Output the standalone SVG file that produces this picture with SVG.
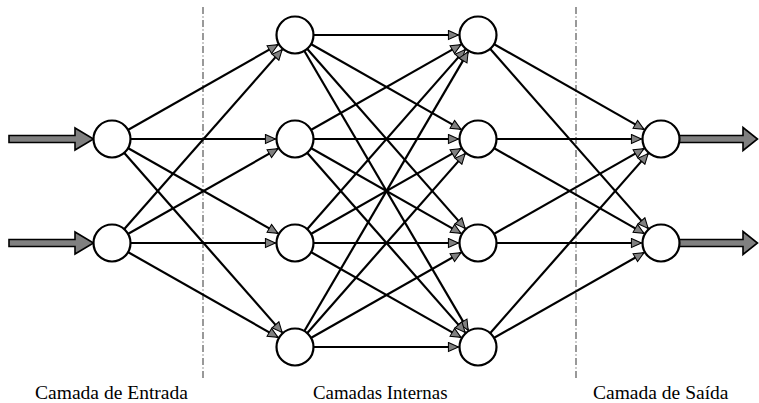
<svg xmlns="http://www.w3.org/2000/svg" width="759" height="403" viewBox="0 0 759 403">
<style>
.c{stroke:#000;stroke-width:2.2;fill:none;marker-end:url(#ah)}
.n{fill:#fff;stroke:#000;stroke-width:2.2}
.blk{fill:#808080;stroke:#000;stroke-width:1.6;stroke-linejoin:miter}
.sep{stroke:#999;stroke-width:2;stroke-dasharray:7 2.5 1 2.5}
.lbl{font-family:"Times New Roman","Liberation Serif","DejaVu Serif",serif;font-size:18.5px;fill:#000}
</style>
<defs>
<marker id="ah" markerUnits="userSpaceOnUse" markerWidth="13" markerHeight="11" refX="11" refY="5" orient="auto" viewBox="-1 -1 13 12">
<path d="M0,0 L11,5 L0,10 Z" fill="#808080" stroke="#000" stroke-width="1.1"/>
</marker>
</defs>
<rect width="759" height="403" fill="#fff"/>
<g id="separators">
<line class="sep" x1="203" y1="7" x2="203" y2="380"/>
<line class="sep" x1="576" y1="7" x2="576" y2="380"/>
</g>
<g id="connectors">
<line class="c" x1="112" y1="139" x2="278.05" y2="44.63"/>
<line class="c" x1="112" y1="139" x2="275.5" y2="139"/>
<line class="c" x1="112" y1="139" x2="278.05" y2="233.37"/>
<line class="c" x1="112" y1="139" x2="282.12" y2="332.36"/>
<line class="c" x1="112" y1="243" x2="282.12" y2="49.64"/>
<line class="c" x1="112" y1="243" x2="278.05" y2="148.63"/>
<line class="c" x1="112" y1="243" x2="275.5" y2="243"/>
<line class="c" x1="112" y1="243" x2="278.05" y2="337.37"/>

<line class="c" x1="295" y1="35" x2="458.5" y2="35"/>
<line class="c" x1="295" y1="139" x2="461.05" y2="44.63"/>
<line class="c" x1="295" y1="243" x2="465.12" y2="49.64"/>
<line class="c" x1="295" y1="347" x2="468.13" y2="51.82"/>
<line class="c" x1="295" y1="35" x2="461.05" y2="129.37"/>
<line class="c" x1="295" y1="139" x2="458.5" y2="139"/>
<line class="c" x1="295" y1="243" x2="461.05" y2="148.63"/>
<line class="c" x1="295" y1="347" x2="465.12" y2="153.64"/>
<line class="c" x1="295" y1="35" x2="465.12" y2="228.36"/>
<line class="c" x1="295" y1="139" x2="461.05" y2="233.37"/>
<line class="c" x1="295" y1="243" x2="458.5" y2="243"/>
<line class="c" x1="295" y1="347" x2="461.05" y2="252.63"/>
<line class="c" x1="295" y1="35" x2="468.13" y2="330.18"/>
<line class="c" x1="295" y1="139" x2="465.12" y2="332.36"/>
<line class="c" x1="295" y1="243" x2="461.05" y2="337.37"/>
<line class="c" x1="295" y1="347" x2="458.5" y2="347"/>

<line class="c" x1="478" y1="35" x2="644.05" y2="129.37"/>
<line class="c" x1="478" y1="139" x2="641.5" y2="139"/>
<line class="c" x1="478" y1="243" x2="644.05" y2="148.63"/>
<line class="c" x1="478" y1="347" x2="648.12" y2="153.64"/>
<line class="c" x1="478" y1="35" x2="648.12" y2="228.36"/>
<line class="c" x1="478" y1="139" x2="644.05" y2="233.37"/>
<line class="c" x1="478" y1="243" x2="641.5" y2="243"/>
<line class="c" x1="478" y1="347" x2="644.05" y2="252.63"/>
</g>
<g id="io-arrows">
<polygon class="blk" points="9,135.5 75,135.5 75,128 93.5,139 75,150 75,142.5 9,142.5"/>
<polygon class="blk" points="9,239.5 75,239.5 75,232 93.5,243 75,254 75,246.5 9,246.5"/>
<polygon class="blk" points="679,135.5 743,135.5 743,127.5 757.5,139 743,150.5 743,142.5 679,142.5"/>
<polygon class="blk" points="679,239.5 743,239.5 743,231.5 757.5,243 743,254.5 743,246.5 679,246.5"/>
</g>
<g id="in1"><circle class="n" cx="112" cy="139" r="18.5"/></g>
<g id="in2"><circle class="n" cx="112" cy="243" r="18.5"/></g>
<g id="h1a"><circle class="n" cx="295" cy="35" r="18.5"/></g>
<g id="h1b"><circle class="n" cx="295" cy="139" r="18.5"/></g>
<g id="h1c"><circle class="n" cx="295" cy="243" r="18.5"/></g>
<g id="h1d"><circle class="n" cx="295" cy="347" r="18.5"/></g>
<g id="h2a"><circle class="n" cx="478" cy="35" r="18.5"/></g>
<g id="h2b"><circle class="n" cx="478" cy="139" r="18.5"/></g>
<g id="h2c"><circle class="n" cx="478" cy="243" r="18.5"/></g>
<g id="h2d"><circle class="n" cx="478" cy="347" r="18.5"/></g>
<g id="out1"><circle class="n" cx="661" cy="139" r="18.5"/></g>
<g id="out2"><circle class="n" cx="661" cy="243" r="18.5"/></g>
<g id="labels">
<text class="lbl" x="35" y="399" textLength="153" lengthAdjust="spacingAndGlyphs">Camada de Entrada</text>
<text class="lbl" x="313" y="399" textLength="134.5" lengthAdjust="spacingAndGlyphs">Camadas Internas</text>
<text class="lbl" x="593" y="399" textLength="135.5" lengthAdjust="spacingAndGlyphs">Camada de Saída</text>
</g>
</svg>
